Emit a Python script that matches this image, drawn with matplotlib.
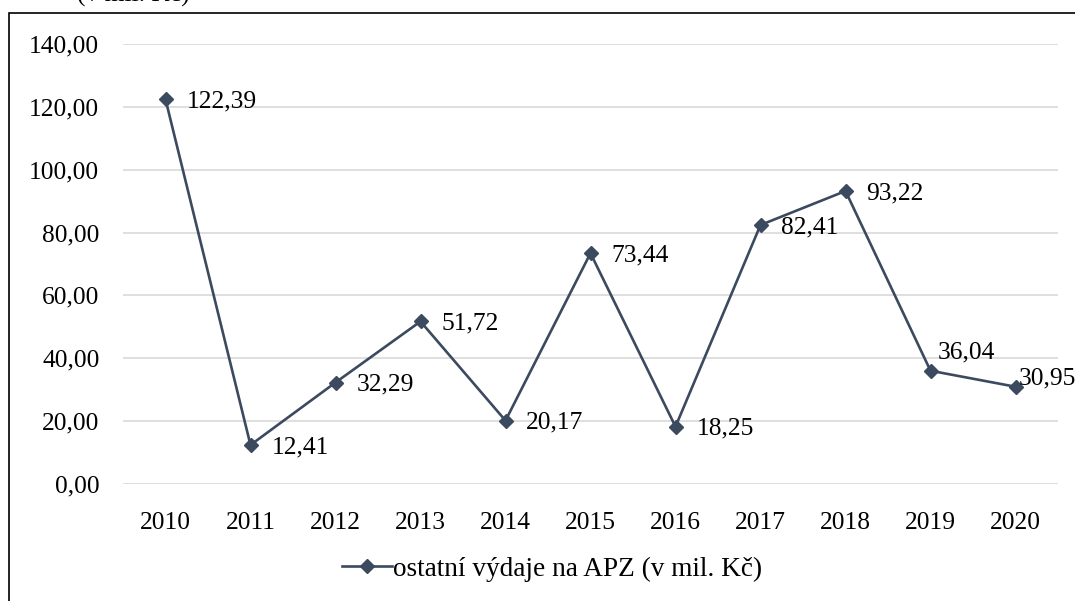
"""Line chart of other APZ expenditures 2010-2020 (v mil. Kč)."""
import matplotlib

matplotlib.use("Agg")
import matplotlib.pyplot as plt
from matplotlib.patches import Rectangle

years = ["2010", "2011", "2012", "2013", "2014", "2015",
         "2016", "2017", "2018", "2019", "2020"]
values = [122.39, 12.41, 32.29, 51.72, 20.17, 73.44,
          18.25, 82.41, 93.22, 36.04, 30.95]
series_name = "ostatní výdaje na APZ (v mil. Kč)"
y_ticks = [0, 20, 40, 60, 80, 100, 120, 140]

LINE_COLOR = "#3C4A5F"
GRID_COLOR = "#D9D9D9"
FONT_SIZE = 18.4

plt.rcParams["font.family"] = ["Liberation Serif", "DejaVu Serif"]


def fmt(v):
    return f"{v:.2f}".replace(".", ",")


fig = plt.figure(figsize=(10.75, 6.01), dpi=100)
ax = fig.add_axes([123 / 1075, 117 / 601, 935 / 1075, 440 / 601])

x = list(range(len(years)))
ax.plot(x, values, color=LINE_COLOR, linewidth=1.9, marker="D",
        markersize=7.5, markerfacecolor=LINE_COLOR, markeredgecolor=LINE_COLOR,
        label=series_name, zorder=3)

# data labels: mostly to the right, two nudged like the original
offsets = {9: (5, 13), 10: (2, 6)}
for i, v in enumerate(values):
    dx, dy = offsets.get(i, (15, -1.5))
    ax.annotate(fmt(v), (i, v), xytext=(dx, dy), textcoords="offset points",
                ha="left", va="center", fontsize=FONT_SIZE, color="black",
                annotation_clip=False, zorder=4)

ax.set_xlim(-0.5, len(years) - 0.5)
ax.set_ylim(0, 140)
ax.set_xticks(x)
ax.set_xticklabels(years)
ax.set_yticks(y_ticks)
ax.set_yticklabels([fmt(t) for t in y_ticks])
ax.tick_params(axis="both", length=0, labelsize=FONT_SIZE)
ax.tick_params(axis="x", pad=20)
ax.tick_params(axis="y", pad=17)
ax.grid(axis="y", color=GRID_COLOR, linewidth=1.2)
ax.set_axisbelow(True)
for side in ax.spines.values():
    side.set_visible(False)

fig.legend(loc="center", bbox_to_anchor=(552 / 1075, 32 / 601), frameon=False,
           fontsize=19.6, handlelength=1.85, handletextpad=0.05)

# chart border (cut off by the crop on the right and bottom)
fig.patches.append(Rectangle((9 / 1075, -0.2), 1.2, (601 - 13) / 601 + 0.2,
                             transform=fig.transFigure, fill=False,
                             edgecolor="black", linewidth=1.2))

# axis unit caption, mostly cropped above the image
fig.text(77 / 1075, (601 - 1.5) / 601, "(v mil. Kč)", ha="left", va="baseline",
         fontsize=FONT_SIZE)

fig.savefig("out.png", dpi=100)
